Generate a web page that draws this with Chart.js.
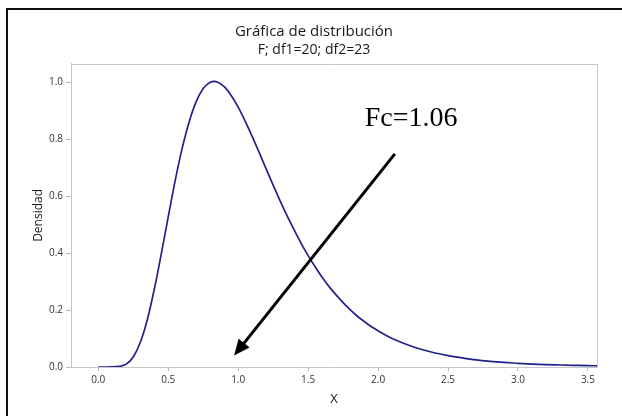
<!DOCTYPE html>
<html>
<head>
<meta charset="utf-8">
<script src="https://cdn.jsdelivr.net/npm/chart.js@4/dist/chart.umd.min.js"></script>
<style>
  html, body { margin: 0; padding: 0; background: #ffffff; }
  #wrap { width: 622px; height: 416px; position: relative; }
</style>
</head>
<body>
<div id="wrap"><canvas id="c" width="622" height="416"></canvas></div>
<script>
// ---- data ----
const chartTitle = "Gráfica de distribución";
const chartSubtitle = "F; df1=20; df2=23";
const xAxisLabel = "X";
const yAxisLabel = "Densidad";

const xValues = [0, 0.05, 0.1, 0.15, 0.2, 0.25, 0.3, 0.35, 0.4, 0.45, 0.5, 0.55, 0.6, 0.65, 0.7, 0.75, 0.8, 0.83, 0.85, 0.9, 0.95,
  1.0, 1.05, 1.1, 1.15, 1.2, 1.25, 1.3, 1.35, 1.4, 1.45, 1.5, 1.55, 1.6, 1.65, 1.7, 1.75, 1.8, 1.85, 1.9, 1.95,
  2.0, 2.1, 2.2, 2.3, 2.4, 2.5, 2.6, 2.7, 2.8, 2.9, 3.0, 3.1, 3.2, 3.3, 3.4, 3.5, 3.57];
const densityValues = [0, 0, 0.0001, 0.002, 0.010, 0.035, 0.086, 0.165, 0.272, 0.396, 0.527, 0.655, 0.768, 0.861, 0.931, 0.977, 0.999, 1.002, 1.000, 0.984, 0.953,
  0.912, 0.863, 0.809, 0.753, 0.695, 0.638, 0.583, 0.530, 0.481, 0.434, 0.391, 0.352, 0.315, 0.282, 0.253, 0.226, 0.201, 0.179, 0.160, 0.142,
  0.127, 0.100, 0.080, 0.063, 0.050, 0.040, 0.032, 0.025, 0.020, 0.016, 0.013, 0.010, 0.008, 0.007, 0.006, 0.005, 0.004];

const xTicks = [0, 0.5, 1.0, 1.5, 2.0, 2.5, 3.0, 3.5];
const yTicks = [0, 0.2, 0.4, 0.6, 0.8, 1.0];

// annotation (in data units)
const annotationText = "Fc=1.06";
const annotationTextAt = [1.905, 0.847];
const arrowFrom = [2.12, 0.748];
const arrowTo = [0.971, 0.040];

// ---- chart ----
const curveColor = "#22228c";
const frameGray = "#c6c6c6";
const tickText = "#333333";

const plotFramePlugin = {
  id: "plotFrame",
  beforeDraw(chart) {
    const ctx = chart.ctx;
    ctx.save();
    ctx.fillStyle = "#ffffff";
    ctx.fillRect(0, 0, chart.width, chart.height);
    // outer black frame (left and top edges visible)
    ctx.strokeStyle = "#111111";
    ctx.lineWidth = 2;
    ctx.beginPath();
    ctx.moveTo(7, 416);
    ctx.lineTo(7, 9);
    ctx.lineTo(622, 9);
    ctx.stroke();
    ctx.restore();
  },
  afterDraw(chart) {
    const a = chart.chartArea;
    const ctx = chart.ctx;
    ctx.save();
    ctx.strokeStyle = frameGray;
    ctx.lineWidth = 1;
    ctx.beginPath();
    ctx.moveTo(Math.round(a.left) + 0.5, Math.round(a.top) + 0.5);
    ctx.lineTo(Math.round(a.right) + 0.5, Math.round(a.top) + 0.5);
    ctx.lineTo(Math.round(a.right) + 0.5, Math.round(a.bottom) + 0.5);
    ctx.stroke();
    ctx.restore();
  }
};

const annotationPlugin = {
  id: "arrowAnnotation",
  afterDraw(chart) {
    const xs = chart.scales.x, ys = chart.scales.y;
    const ctx = chart.ctx;
    const x1 = xs.getPixelForValue(arrowFrom[0]), y1 = ys.getPixelForValue(arrowFrom[1]);
    const x2 = xs.getPixelForValue(arrowTo[0]), y2 = ys.getPixelForValue(arrowTo[1]);
    const ang = Math.atan2(y2 - y1, x2 - x1);
    const headLen = 16, headHalf = 7;
    const bx = x2 - headLen * Math.cos(ang), by = y2 - headLen * Math.sin(ang);
    ctx.save();
    ctx.strokeStyle = "#000000";
    ctx.fillStyle = "#000000";
    ctx.lineWidth = 3;
    ctx.beginPath();
    ctx.moveTo(x1, y1);
    ctx.lineTo(bx + 2 * Math.cos(ang), by + 2 * Math.sin(ang));
    ctx.stroke();
    ctx.beginPath();
    ctx.moveTo(x2, y2);
    ctx.lineTo(bx + headHalf * Math.sin(ang), by - headHalf * Math.cos(ang));
    ctx.lineTo(bx - headHalf * Math.sin(ang), by + headHalf * Math.cos(ang));
    ctx.closePath();
    ctx.fill();
    ctx.font = '28px "Liberation Serif", "Times New Roman", serif';
    ctx.textAlign = "left";
    ctx.textBaseline = "alphabetic";
    ctx.fillText(annotationText, xs.getPixelForValue(annotationTextAt[0]), ys.getPixelForValue(annotationTextAt[1]));
    ctx.restore();
  }
};

const fontFamily = '"Open Sans", "Noto Sans", sans-serif';

new Chart(document.getElementById("c"), {
  type: "line",
  data: {
    datasets: [{
      data: xValues.map((x, i) => ({ x: x, y: densityValues[i] })),
      borderColor: curveColor,
      borderWidth: 1.7,
      pointRadius: 0,
      fill: false,
      cubicInterpolationMode: "monotone"
    }]
  },
  options: {
    responsive: false,
    animation: false,
    devicePixelRatio: 1,
    layout: { padding: { left: 31, right: 25, top: 0, bottom: 0 } },
    plugins: {
      legend: { display: false },
      tooltip: { enabled: false },
      title: {
        display: true,
        text: chartTitle,
        color: "#1a1a1a",
        font: { family: fontFamily, size: 15, weight: "normal" },
        padding: { top: 23, bottom: 1 }
      },
      subtitle: {
        display: true,
        text: chartSubtitle,
        color: "#1a1a1a",
        font: { family: fontFamily, size: 14, weight: "normal" },
        padding: { top: 0, bottom: 5 }
      }
    },
    scales: {
      x: {
        type: "linear",
        min: -0.195,
        max: 3.565,
        afterBuildTicks(scale) { scale.ticks = xTicks.map(v => ({ value: v })); },
        afterFit(scale) { scale.height = 49; },
        ticks: {
          color: tickText,
          font: { family: fontFamily, size: 10 },
          padding: 3,
          maxRotation: 0,
          callback: v => Number(v).toFixed(1)
        },
        grid: { display: true, drawOnChartArea: false, drawTicks: true, tickLength: 4, color: "#b8b8b8" },
        border: { display: true, color: frameGray, width: 1 },
        title: {
          display: true,
          text: xAxisLabel,
          color: "#1a1a1a",
          font: { family: fontFamily, size: 13 },
          padding: { top: 0, bottom: 9 }
        }
      },
      y: {
        type: "linear",
        min: 0,
        max: 1.064,
        afterBuildTicks(scale) { scale.ticks = yTicks.map(v => ({ value: v })); },
        afterFit(scale) { scale.width = 40; },
        ticks: {
          color: tickText,
          font: { family: fontFamily, size: 10 },
          padding: 3,
          callback: v => Number(v).toFixed(1)
        },
        grid: { display: true, drawOnChartArea: false, drawTicks: true, tickLength: 5, color: "#b8b8b8" },
        border: { display: true, color: frameGray, width: 1 },
        title: {
          display: true,
          text: yAxisLabel,
          color: "#1a1a1a",
          font: { family: fontFamily, size: 12 },
          padding: { top: 0, bottom: 0 }
        }
      }
    }
  },
  plugins: [plotFramePlugin, annotationPlugin]
});
</script>
</body>
</html>
